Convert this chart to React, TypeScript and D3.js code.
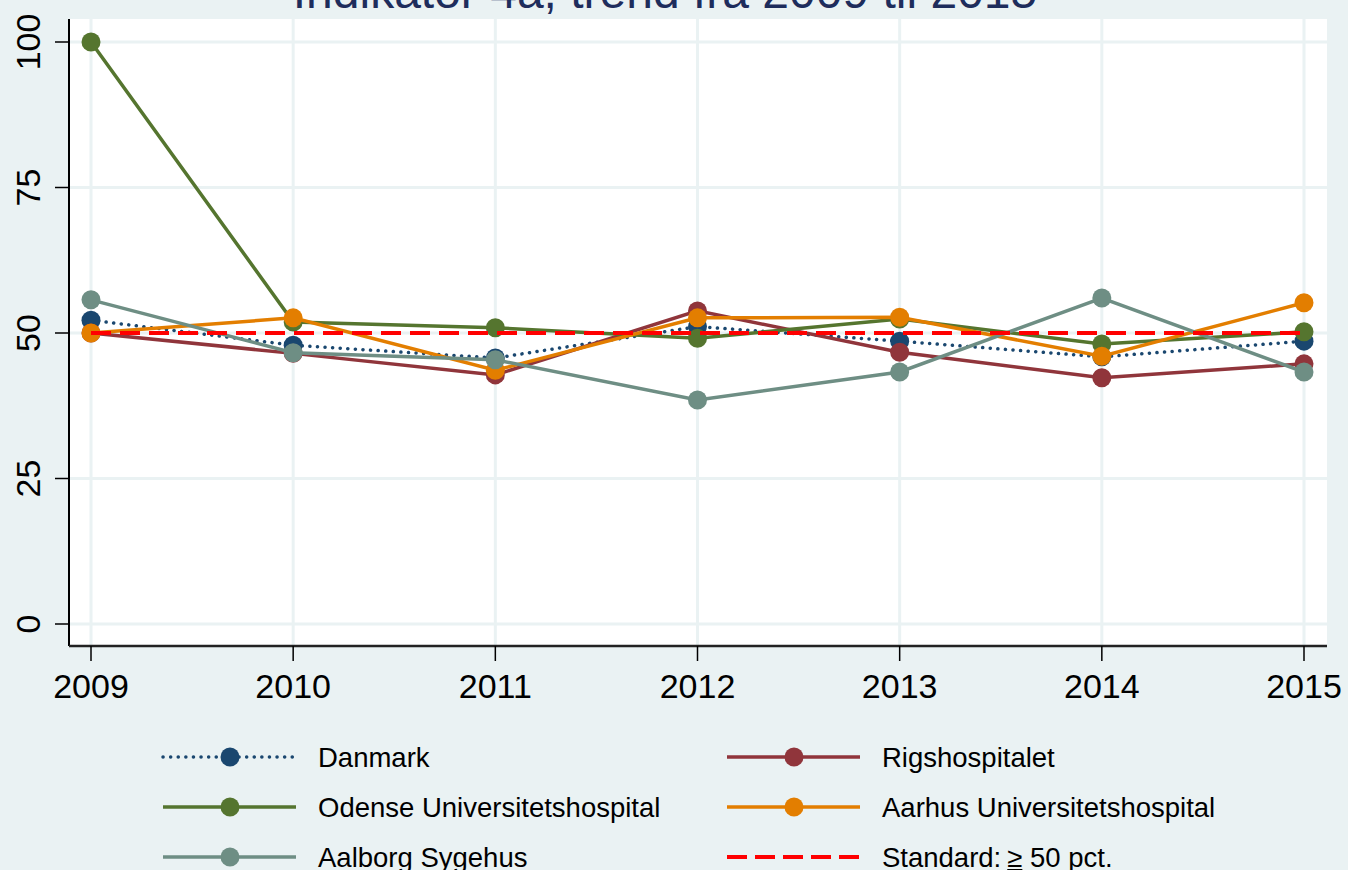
import React from "react";
import * as d3 from "d3";

const years = [2009, 2010, 2011, 2012, 2013, 2014, 2015];
const yTicks = [0, 25, 50, 75, 100];

const danmark = [52.2, 47.9, 45.7, 51.1, 48.6, 45.9, 48.6];
const rigshospitalet = [50.0, 46.5, 42.8, 53.8, 46.7, 42.3, 44.7];
const odense = [100, 51.9, 50.9, 49.1, 52.4, 48.1, 50.2];
const aarhus = [50.0, 52.6, 43.6, 52.6, 52.7, 46.0, 55.2];
const aalborg = [55.7, 46.6, 45.4, 38.5, 43.3, 56.0, 43.3];
const standard = [50, 50, 50, 50, 50, 50, 50];

const seriesNames = [
  "Danmark",
  "Rigshospitalet",
  "Odense Universitetshospital",
  "Aarhus Universitetshospital",
  "Aalborg Sygehus",
  "Standard:",
];

const W = 1348;
const H = 870;
const font = "'Liberation Sans', Arial, sans-serif";

const styles = [
  { color: "#1a476f", dash: "0.1 7.5", cap: "round", width: 3.5, marker: true },
  { color: "#90353b", dash: null, cap: "butt", width: 3.5, marker: true },
  { color: "#55752f", dash: null, cap: "butt", width: 3.5, marker: true },
  { color: "#e37e00", dash: null, cap: "butt", width: 3.5, marker: true },
  { color: "#6e8e84", dash: null, cap: "butt", width: 3.5, marker: true },
  { color: "#ff0000", dash: "20 9", cap: "butt", width: 4, marker: false },
];

const App = () => {
  const plot = { left: 69, right: 1327, top: 19, bottom: 646 };
  const x = d3.scaleLinear().domain([2009, 2015]).range([91, 1304]);
  const y = d3.scaleLinear().domain([0, 100]).range([624, 42]);

  const data = [danmark, rigshospitalet, odense, aarhus, aalborg, standard];
  const line = d3
    .line<number>()
    .x((_, i) => x(years[i]))
    .y((d) => y(d));

  const legendPos = (i: number) => ({
    lx: i % 2 === 0 ? 163 : 727,
    ly: 757 + Math.floor(i / 2) * 50,
  });

  return (
    <svg width={W} height={H} style={{ display: "block", position: "absolute", left: 0, top: 0 }}>
      <rect width={W} height={H} fill="#eaf2f3" />
      <text x={665} y={8} textAnchor="middle" fontFamily={font} fontSize={48} fill="#1e2d5c">
        Indikator 4a, trend fra 2009 til 2015
      </text>
      <rect x={plot.left} y={plot.top} width={plot.right - plot.left} height={plot.bottom - plot.top} fill="#fff" />
      {/* grid */}
      {yTicks.map((t) => (
        <line key={"gy" + t} x1={plot.left} x2={plot.right} y1={y(t)} y2={y(t)} stroke="#eaf2f3" strokeWidth={3} />
      ))}
      {years.map((t) => (
        <line key={"gx" + t} x1={x(t)} x2={x(t)} y1={plot.top} y2={plot.bottom} stroke="#eaf2f3" strokeWidth={3} />
      ))}
      {/* axes */}
      <line x1={plot.left} x2={plot.left} y1={plot.top} y2={plot.bottom} stroke="#000" strokeWidth={2} />
      <line x1={plot.left} x2={plot.right} y1={plot.bottom} y2={plot.bottom} stroke="#222" strokeWidth={2.5} />
      {yTicks.map((t) => (
        <g key={"ty" + t}>
          <line x1={55} x2={plot.left} y1={y(t)} y2={y(t)} stroke="#000" strokeWidth={1.5} />
          <text
            transform={`translate(40,${y(t)}) rotate(-90)`}
            textAnchor="middle"
            fontFamily={font}
            fontSize={34}
            fill="#000"
          >
            {t}
          </text>
        </g>
      ))}
      {years.map((t) => (
        <g key={"tx" + t}>
          <line x1={x(t)} x2={x(t)} y1={plot.bottom} y2={661} stroke="#000" strokeWidth={1.5} />
          <text x={x(t)} y={698} textAnchor="middle" fontFamily={font} fontSize={34} fill="#000">
            {t}
          </text>
        </g>
      ))}
      {/* series */}
      {data.map((d, si) => {
        const s = styles[si];
        return (
          <g key={"s" + si}>
            <path
              d={line(d) ?? ""}
              fill="none"
              stroke={s.color}
              strokeWidth={s.width}
              strokeDasharray={s.dash ?? undefined}
              strokeLinecap={s.cap as any}
            />
            {s.marker &&
              d.map((v, i) => <circle key={i} cx={x(years[i])} cy={y(v)} r={9.5} fill={s.color} />)}
          </g>
        );
      })}
      {/* legend */}
      {seriesNames.map((name, i) => {
        const s = styles[i];
        const { lx, ly } = legendPos(i);
        return (
          <g key={"l" + i}>
            <line
              x1={lx}
              x2={lx + 133}
              y1={ly}
              y2={ly}
              stroke={s.color}
              strokeWidth={s.width}
              strokeDasharray={s.dash ? (i === 5 ? "20 8" : s.dash) : undefined}
              strokeLinecap={s.cap as any}
            />
            {s.marker && <circle cx={lx + 67} cy={ly} r={9.5} fill={s.color} />}
            <text x={lx + 155} y={ly + 10} fontFamily={font} fontSize={27.5} fill="#000">
              {name}
              {i === 5 && (
                <>
                  <tspan dx={6} textDecoration="underline">{"\u2265"}</tspan>
                  <tspan> 50 pct.</tspan>
                </>
              )}
            </text>
          </g>
        );
      })}
    </svg>
  );
};

export default App;
